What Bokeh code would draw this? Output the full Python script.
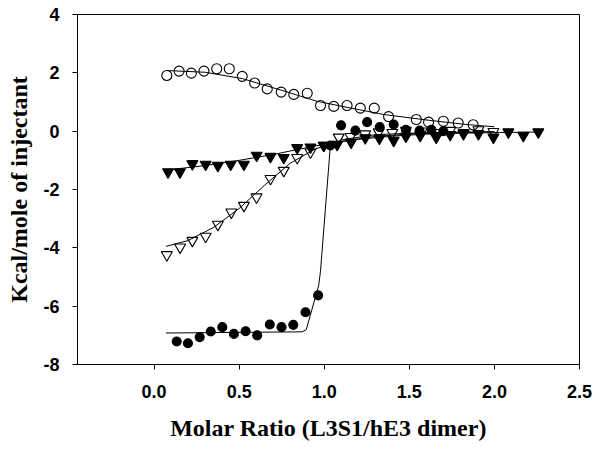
from bokeh.plotting import figure
from bokeh.models import Range1d, FixedTicker, NumeralTickFormatter
from bokeh.embed import file_html
from bokeh.resources import INLINE

# Open circles
oc_x = [0.075, 0.147, 0.219, 0.293, 0.368, 0.442, 0.518, 0.591, 0.665, 0.747, 0.821, 0.900,
        0.978, 1.056, 1.134, 1.212, 1.294, 1.378, 1.541, 1.613, 1.700, 1.787, 1.875]
oc_y = [1.91, 2.06, 1.99, 2.06, 2.14, 2.14, 1.88, 1.65, 1.45, 1.34, 1.26, 1.30,
        0.88, 0.85, 0.88, 0.79, 0.79, 0.50, 0.40, 0.31, 0.34, 0.28, 0.22]
oc_fit_x = [0.07, 0.30, 0.52, 0.75, 0.96, 1.15, 1.35, 1.62, 1.85, 2.00]
oc_fit_y = [2.08, 2.02, 1.80, 1.40, 1.02, 0.80, 0.57, 0.37, 0.22, 0.15]

# Open inverted triangles
ot_x = [0.075, 0.153, 0.225, 0.303, 0.375, 0.454, 0.528, 0.602, 0.684, 0.762, 0.841, 0.919,
        0.997, 1.085, 1.154, 1.240, 1.320, 1.400, 1.480, 1.574, 1.650, 1.740, 1.820, 1.906, 1.994]
ot_y = [-4.24, -3.98, -3.75, -3.61, -3.20, -2.78, -2.55, -2.26, -1.63, -1.35, -0.91, -0.72,
        -0.49, -0.21, -0.19, -0.10, -0.03, -0.05, 0.02, 0.00, -0.05, 0.02, -0.05, 0.04, -0.02]
ot_fit_x = [0.07, 0.20, 0.35, 0.50, 0.65, 0.80, 0.95, 1.10, 1.30, 1.50, 1.75, 2.00]
ot_fit_y = [-3.95, -3.75, -3.30, -2.65, -1.85, -1.10, -0.60, -0.35, -0.18, -0.10, -0.05, -0.02]

# Filled inverted triangles
ft_x = [0.082, 0.152, 0.225, 0.303, 0.375, 0.450, 0.528, 0.603, 0.684, 0.762, 0.841, 0.919,
        0.997, 1.076, 1.158, 1.241, 1.324, 1.408, 1.480, 1.564, 1.658, 1.740, 1.818, 1.906,
        1.994, 2.082, 2.170, 2.258]
ft_y = [-1.40, -1.40, -1.12, -1.14, -1.18, -1.14, -1.14, -0.83, -0.87, -0.91, -0.57, -0.55,
        -0.49, -0.46, -0.38, -0.23, -0.25, -0.32, -0.18, -0.15, -0.21, -0.12, -0.09, -0.09,
        -0.21, -0.03, -0.15, -0.03]
ft_fit_x = [0.08, 0.30, 0.50, 0.70, 0.85, 1.00, 1.20, 1.40, 1.60, 1.80, 2.00, 2.27]
ft_fit_y = [-1.33, -1.18, -1.00, -0.80, -0.62, -0.45, -0.28, -0.17, -0.10, -0.07, -0.05, -0.03]

# Filled circles
fc_x = [0.133, 0.199, 0.268, 0.333, 0.401, 0.469, 0.538, 0.606, 0.680, 0.749, 0.818, 0.890,
        0.964, 1.036, 1.099, 1.183, 1.252, 1.326, 1.408, 1.480, 1.560, 1.630, 1.700]
fc_y = [-7.21, -7.27, -7.06, -6.87, -6.72, -6.95, -6.86, -7.00, -6.63, -6.72, -6.64, -6.21,
        -5.63, -0.49, 0.20, 0.02, 0.31, 0.14, 0.23, 0.05, 0.02, 0.05, 0.00]
fc_fit_x = [0.07, 0.87, 0.894, 0.967, 0.978, 1.036, 1.10, 1.30, 1.60, 2.00]
fc_fit_y = [-6.92, -6.88, -6.81, -5.30, -4.80, -0.49, -0.30, -0.12, -0.05, -0.02]

x_ticks = [0.0, 0.5, 1.0, 1.5, 2.0, 2.5]
y_ticks = [-8, -6, -4, -2, 0, 2, 4]

p = figure(width=593, height=448, output_backend="svg", toolbar_location=None,
           x_range=Range1d(-0.45, 2.5), y_range=Range1d(-8, 4),
           min_border_left=77, min_border_right=14, min_border_top=14, min_border_bottom=84)
p.grid.visible = False
p.outline_line_color = "black"
p.outline_line_width = 1
p.background_fill_color = "white"
p.border_fill_color = "white"

mk = dict(line_color="black", line_width=1.1)
p.scatter(oc_x, oc_y, marker="circle", size=10, fill_alpha=0, **mk)
p.scatter(ot_x, ot_y, marker="inverted_triangle", size=11, fill_alpha=0, **mk)
p.scatter(ft_x, ft_y, marker="inverted_triangle", size=11, fill_color="black", **mk)
p.scatter(fc_x, fc_y, marker="circle", size=9, fill_color="black", **mk)

for fx, fy in [(oc_fit_x, oc_fit_y), (ot_fit_x, ot_fit_y), (ft_fit_x, ft_fit_y), (fc_fit_x, fc_fit_y)]:
    p.line(fx, fy, line_color="black", line_width=1)

p.xaxis.ticker = FixedTicker(ticks=x_ticks)
p.yaxis.ticker = FixedTicker(ticks=y_ticks)
p.xaxis.formatter = NumeralTickFormatter(format="0.0")
p.yaxis.formatter = NumeralTickFormatter(format="0")
for ax in (p.xaxis, p.yaxis):
    ax.major_tick_in = 0
    ax.major_tick_out = 5
    ax.minor_tick_out = 0
    ax.minor_tick_in = 0
    ax.axis_line_color = "black"
    ax.major_tick_line_color = "black"
    ax.major_label_text_font = "Liberation Sans"
    ax.major_label_text_font_style = "bold"
    ax.major_label_text_font_size = "18px"
    ax.major_label_text_color = "black"
    ax.axis_label_text_font = "Liberation Serif"
    ax.axis_label_text_font_style = "bold"
    ax.axis_label_text_font_size = "24px"
    ax.axis_label_text_color = "black"

p.xaxis.axis_label = "Molar Ratio (L3S1/hE3 dimer)"
p.yaxis.axis_label = "Kcal/mole of injectant"
p.xaxis.major_label_standoff = 15
p.yaxis.major_label_standoff = 13
p.xaxis.axis_label_standoff = 14
p.yaxis.axis_label_standoff = 8

open("out.html", "w").write(file_html(p, INLINE))
